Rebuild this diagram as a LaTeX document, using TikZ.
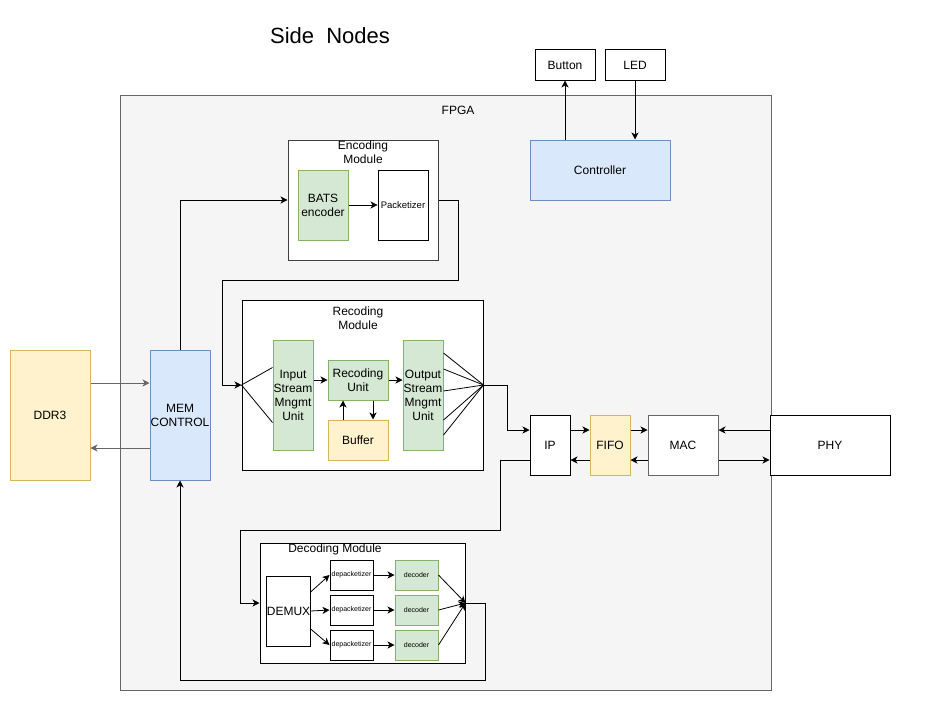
\documentclass[tikz,border=0pt]{standalone}
\usepackage{fontspec}
\setmainfont{Liberation Sans}
\usepackage{tikz}
\usetikzlibrary{arrows.meta, calc}

\begin{document}
\begin{tikzpicture}[
  x=1pt, y=-1pt,
  font=\fontsize{12}{14}\selectfont,
  blk/.style={draw=black, fill=white, line width=1pt, inner sep=0pt, align=center},
  grn/.style={blk, draw=drawgreen, fill=fillgreen},
  ylw/.style={blk, draw=drawyellow, fill=fillyellow},
  blu/.style={blk, draw=drawblue, fill=fillblue},
  modbox/.style={blk, draw=black!75},
  lbl/.style={anchor=north, inner sep=0pt, align=center},
  tiny/.style={font=\fontsize{7}{8}\selectfont},
  ln/.style={line width=0.8pt, black},
  arr/.style={ln, -{Stealth[length=7pt, width=7pt, inset=2pt]}},
  garr/.style={arr, draw=black!60},
]
\definecolor{fillgreen}{HTML}{D5E8D4}
\definecolor{drawgreen}{HTML}{82B366}
\definecolor{fillyellow}{HTML}{FFF2CC}
\definecolor{drawyellow}{HTML}{D6B656}
\definecolor{fillblue}{HTML}{DAE8FC}
\definecolor{drawblue}{HTML}{6C8EBF}
\definecolor{fillgray}{HTML}{F5F5F5}
\useasboundingbox[fill=white] (0,0) rectangle (952,701);
% title
\node[font=\fontsize{22}{24}\selectfont] (title) at (330,36) {Side\ \ Nodes};
% the FPGA board
\node[blk, draw=black!60, fill=fillgray, minimum width=651, minimum height=595] (fpga) at (445.5,392.5) {};
\node (fpgalbl) at (458,110) {FPGA};
% side I/O
\node[blk, minimum width=60, minimum height=30] (button) at (565,65) {Button};
\node[blk, minimum width=60, minimum height=30] (led) at (635,65) {LED};
\node[blu, minimum width=140, minimum height=60] (ctrl) at (600,170) {Controller};
\draw[arr] (button.south |- ctrl.north) -- (button.south);
\draw[arr] (led.south) -- (led.south |- ctrl.north);
% memory
\node[ylw, minimum width=80, minimum height=130] (ddr) at (50,415) {DDR3};
\node[blu, minimum width=60, minimum height=130] (mem) at (180,415) {MEM\\CONTROL};
\draw[garr] ([yshift=32pt]ddr.east) -- ([yshift=32pt]mem.west);
\draw[garr] ([yshift=-33pt]mem.west) -- ([yshift=-33pt]ddr.east);
% encoding module
\node[modbox, minimum width=150, minimum height=120] (enc) at (363,200) {};
\node[lbl] (enclbl) at (363,141) {Encoding\\Module};
\node[grn, minimum width=50, minimum height=70] (bats) at (323,205) {BATS\\encoder};
\node[blk, minimum width=50, minimum height=70, font=\fontsize{9.5}{11}\selectfont] (pack) at (403,205) {Packetizer};
\draw[arr] (bats) -- (pack);
% recoding module
\node[blk, minimum width=241, minimum height=170] (rec) at (362.5,385) {};
\node[lbl] (reclbl) at (358,307) {Recoding\\Module};
\node[grn, minimum width=40, minimum height=110] (insm) at (293,395) {Input\\Stream\\Mngmt\\Unit};
\node[grn, minimum width=60, minimum height=40] (recu) at (358,380) {Recoding\\Unit};
\node[ylw, minimum width=60, minimum height=40] (buf) at (358,440) {Buffer};
\node[grn, minimum width=40, minimum height=110] (outsm) at (423,395) {Output\\Stream\\Mngmt\\Unit};
\draw[ln] (rec.west) -- ([yshift=27.5pt]insm.west);
\draw[ln] (rec.west) -- ([yshift=-27.5pt]insm.west);
\draw[arr] (insm.east |- recu.west) -- (recu.west);
\draw[arr] (recu.east) -- (recu.east -| outsm.west);
\draw[arr] ([xshift=-15pt]buf.north) -- ([xshift=-15pt]recu.south);
\draw[arr] ([xshift=15pt]recu.south) -- ([xshift=15pt]buf.north);
\foreach \s in {42,26,4,-25,-40}
  \draw[ln] ([yshift=\s pt]outsm.east) -- (rec.east);
% network side
\node[blk, minimum width=40, minimum height=60] (ip) at (550,445) {IP};
\node[ylw, minimum width=40, minimum height=60] (fifo) at (610,445) {FIFO};
\node[blk, draw=black!60, minimum width=70, minimum height=60] (mac) at (683,445) {MAC};
\node[blk, minimum width=120, minimum height=60] (phy) at (830,445) {PHY};
\draw[arr] ([yshift=15pt]ip.east) -- ([yshift=15pt]fifo.west);
\draw[arr] ([yshift=15pt]fifo.east) -- ([yshift=15pt]mac.west);
\draw[arr] ([yshift=-15pt]mac.west) -- ([yshift=-15pt]fifo.east);
\draw[arr] ([yshift=-15pt]fifo.west) -- ([yshift=-15pt]ip.east);
\draw[arr] ([yshift=15pt]phy.west) -- ([yshift=15pt]mac.east);
\draw[arr] ([yshift=-15pt]mac.east) -- ([yshift=-15pt]phy.west);
% decoding module
\node[blk, minimum width=205, minimum height=120] (decm) at (362.5,603) {};
\node[lbl] (declbl) at (335,544) {Decoding Module};
\node[blk, minimum width=43, minimum height=70] (demux) at (288.5,611) {DEMUX};
\foreach \i/\y in {1/575,2/610,3/645} {
  \node[blk, tiny, minimum width=43, minimum height=30] (dp\i) at (351.5,\y) {depacketizer};
  \node[grn, tiny, minimum width=43, minimum height=30] (dc\i) at (416.5,\y) {decoder};
  \draw[arr] (dp\i) -- (dc\i);
  \draw[arr] (dc\i.east) -- (decm.east);
}
\draw[arr] ([yshift=19pt]demux.east) -- (dp1.west);
\draw[arr] (demux.east) -- (dp2.west);
\draw[arr] ([yshift=-18pt]demux.east) -- (dp3.west);
% data paths between the blocks
\draw[arr] (mem.north) |- (enc.west);
\draw[arr] (enc.east) -| (458,280) -- (222,280) |- (rec.west);
\draw[arr] (rec.east) -- ++(24,0) |- ([yshift=15pt]ip.west);
\draw[arr] ([yshift=-15pt]ip.west) -| (500,530) -- (240,530) |- (decm.west);
\draw[arr] (decm.east) -| (485,680) -| (mem.south);
\end{tikzpicture}
\end{document}
